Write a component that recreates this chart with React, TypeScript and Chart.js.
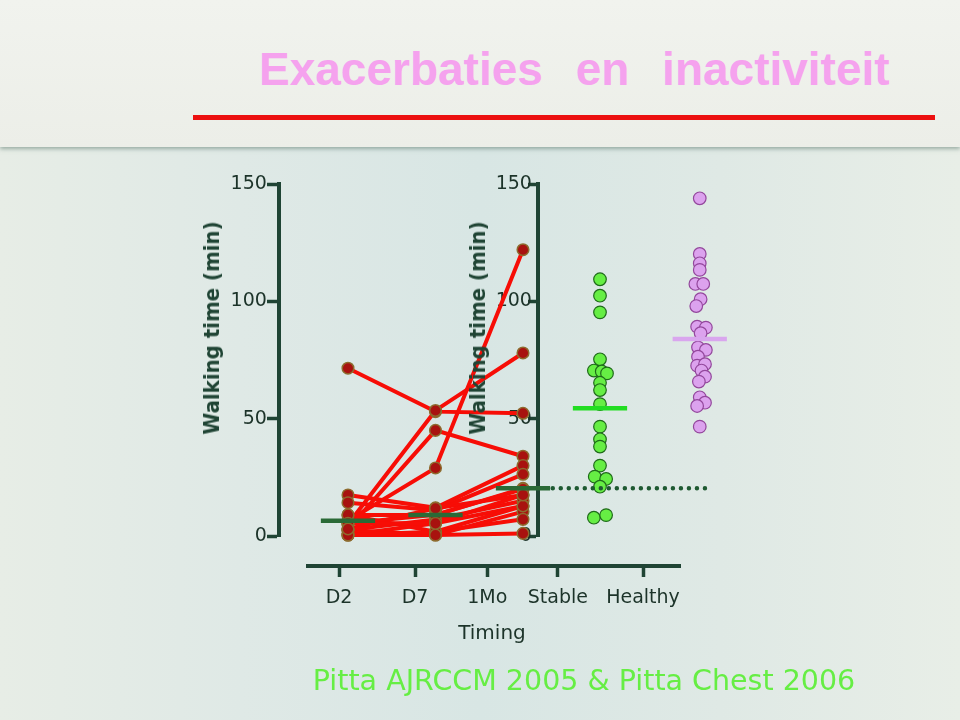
import React, { useEffect, useRef } from 'react';
import { Chart, registerables } from 'chart.js';

Chart.register(...registerables);

// ---- data -------------------------------------------------------------
const groupLabels = ['D2', 'D7', '1Mo', 'Stable', 'Healthy'];
// group positions on the data x-axis (units = one timing step)
const groupX = [0, 1, 2, 2.88, 4.02];
// positions of the printed timing ticks on the label axis
const labelTickX = [0, 1, 1.95, 2.88, 4];

// paired walking time (min) per patient at D2, D7, 1Mo
const patients: number[][] = [
  [71.5, 53, 52.3],
  [5, 53.5, 78],
  [3, 45, 34],
  [6.5, 29, 122],
  [17.5, 12, 30],
  [14.2, 11, 26.3],
  [9, 9, 20.3],
  [5.4, 5.4, 17.5],
  [2.6, 7, 15],
  [0.4, 1.8, 12.8],
  [0.4, 0.4, 10.4],
  [9, 1.8, 7.1],
  [2.6, 0.4, 1.1],
  [5.4, 9, 20],
  [0.4, 5.4, 12.8],
  [3, 11.8, 17.5],
];

// stable COPD patients: walking time (min) and horizontal jitter (x units)
const stableValues = [109.4, 102.4, 95.3, 75.3, 70.5, 70.1, 69.3, 65.3, 62.2, 56.2, 46.6, 41.2, 38.1, 30, 25.3, 24.3, 21, 7.8, 8.9];
const stableJitter = [0, 0, 0, 0, -0.07, 0.02, 0.08, 0, 0, 0, 0, 0, 0, 0, -0.06, 0.07, 0, -0.07, 0.07];

// healthy subjects
const healthyValues = [143.9, 120.2, 116.2, 113.4, 107.4, 107.4, 100.9, 98, 89.2, 88.8, 86.4, 80.4, 79.3, 76.4, 72.6, 73.2, 70.5, 67.9, 65.8, 59.1, 56.8, 55.4, 46.6];
const healthyJitter = [0, 0, 0, 0, -0.05, 0.04, 0.01, -0.04, -0.03, 0.07, 0.01, -0.02, 0.07, -0.02, -0.03, 0.06, 0.02, 0.06, -0.01, 0, 0.06, -0.03, 0];

// medians: D2, D7, 1Mo, Stable, Healthy
const medians = [6.5, 9, 20.3, 54.4, 84];

// ---- styling ------------------------------------------------------------
const AXIS = '#1f4434';
const TICKTXT = '#1c3329';
const FONT = "'DejaVu Sans', sans-serif";
const X_LABEL_AXIS_END = 4.487; // where the drawn timing axis line stops (label-axis units)

export default function App() {
  const ref = useRef<HTMLCanvasElement>(null);

  useEffect(() => {
    if (!ref.current) return;
    const datasets: any[] = [];

    const medColors = ['#2a6a36', '#2a6a36', '#2a6a36', '#22dd22', '#d9a6ee'];
    medians.forEach((m, i) => {
      datasets.push({
        data: [
          { x: groupX[i] - 0.31, y: m },
          { x: groupX[i] + 0.31, y: m },
        ],
        showLine: true,
        borderColor: medColors[i],
        borderWidth: 4.5,
        pointRadius: 0,
        clip: false,
        order: 0,
      });
    });
    datasets.push({
      data: [
        { x: groupX[2] + 0.34, y: medians[2] },
        { x: groupX[4] + 0.14, y: medians[2] },
      ],
      showLine: true,
      borderColor: '#1f5a32',
      borderWidth: 4.5,
      borderDash: [0.01, 8],
      borderCapStyle: 'round',
      pointRadius: 0,
      clip: false,
      order: 0,
    });

    const patientPts: any[] = [];
    patients.forEach((p) => p.forEach((v, j) => patientPts.push({ x: groupX[j], y: v })));
    datasets.push({
      data: patientPts,
      pointRadius: 5.8,
      pointBackgroundColor: '#a8120f',
      pointBorderColor: '#8d6b2e',
      pointBorderWidth: 1.5,
      clip: false,
      order: 1,
    });
    datasets.push({
      data: stableValues.map((v, i) => ({ x: groupX[3] + stableJitter[i], y: v })),
      pointRadius: 6.3,
      pointBackgroundColor: '#66ee44',
      pointBorderColor: '#1f6a1a',
      pointBorderWidth: 1.2,
      clip: false,
      order: 1,
    });
    datasets.push({
      data: healthyValues.map((v, i) => ({ x: groupX[4] + healthyJitter[i], y: v })),
      pointRadius: 6.3,
      pointBackgroundColor: '#dca2ee',
      pointBorderColor: '#93479c',
      pointBorderWidth: 1.2,
      clip: false,
      order: 1,
    });

    patients.forEach((p) => {
      datasets.push({
        data: p.map((v, j) => ({ x: groupX[j], y: v })),
        showLine: true,
        borderColor: '#f70d06',
        borderWidth: 4,
        pointRadius: 0,
        clip: false,
        order: 2,
      });
    });

    const tickFont = { family: FONT, size: 19 };

    // the timing axis line stops short of the plotting area on the right
    const shortenAxis = {
      id: 'shortenAxis',
      afterLayout(chart: any) {
        const s = chart.scales.xl;
        if (s) s.right = s.getPixelForValue(X_LABEL_AXIS_END);
      },
    };

    const chart = new Chart(ref.current, {
      type: 'scatter',
      data: { datasets },
      plugins: [shortenAxis],
      options: {
        responsive: false,
        animation: false,
        events: [],
        layout: { padding: { left: 308, right: 220, top: 184, bottom: 184 } },
        plugins: { legend: { display: false }, tooltip: { enabled: false } },
        scales: {
          x: { type: 'linear', display: false, min: -0.457, max: 4.48 },
          y: {
            type: 'linear',
            axis: 'y',
            min: 0,
            max: 150,
            position: { x: -0.789 },
            ticks: { stepSize: 50, font: tickFont, color: TICKTXT, callback: (v: any) => `${v}  ` },
            grid: { drawOnChartArea: false, drawTicks: true, tickLength: 10, tickWidth: 3.5, tickColor: AXIS, color: AXIS },
            border: { display: true, color: AXIS, width: 4 },
          },
          y2: {
            type: 'linear',
            axis: 'y',
            min: 0,
            max: 150,
            position: { x: 2.171 },
            ticks: { stepSize: 50, font: tickFont, color: TICKTXT, callback: (v: any) => `${v} ` },
            grid: { drawOnChartArea: false, drawTicks: true, tickLength: 8, tickWidth: 3.5, tickColor: AXIS, color: AXIS },
            border: { display: true, color: AXIS, width: 4 },
          },
          xl: {
            type: 'linear',
            axis: 'x',
            min: -0.408,
            max: 5.276,
            position: { y: -12.8 },
            afterBuildTicks: (s: any) => {
              s.ticks = labelTickX.map((v) => ({ value: v }));
            },
            ticks: {
              autoSkip: false,
              maxRotation: 0,
              font: tickFont,
              color: TICKTXT,
              padding: 12,
              callback: (_v: any, i: number) => groupLabels[i],
            },
            grid: { drawOnChartArea: false, drawTicks: true, tickLength: 9, tickWidth: 3.5, tickColor: AXIS, color: AXIS },
            border: { display: true, color: AXIS, width: 4 },
          },
        },
      } as any,
    });
    return () => chart.destroy();
  }, []);

  const rotTitle = (cx: number, cy: number): React.CSSProperties => ({
    position: 'absolute',
    left: cx,
    top: cy,
    transform: 'translate(-50%, -50%) rotate(-90deg) scaleX(0.9)',
    whiteSpace: 'nowrap',
    fontFamily: FONT,
    fontSize: 22,
    fontWeight: 'bold',
    color: '#1f4434',
    lineHeight: 1,
  });

  return (
    <div
      style={{
        position: 'fixed',
        left: 0,
        top: 0,
        width: 960,
        height: 720,
        overflow: 'hidden',
        background:
          'linear-gradient(to right, #e7ede6 0%, #dfe9e6 25%, #d8e6e4 50%, #dfe9e5 75%, #e8eee7 100%)',
      }}
    >
      <div
        style={{
          position: 'absolute',
          left: 0,
          top: 0,
          width: 960,
          height: 147,
          background: 'linear-gradient(to bottom, #f1f3ee, #eceee8)',
          boxShadow: '0 2px 4px rgba(90,120,110,0.55)',
        }}
      />
      <div
        style={{
          position: 'absolute',
          left: 259,
          top: 46,
          whiteSpace: 'nowrap',
          fontFamily: "'Liberation Sans', Arial, sans-serif",
          fontWeight: 'bold',
          fontSize: 46,
          color: '#f5a2ee',
          lineHeight: 1,
          wordSpacing: 20,
        }}
      >
        Exacerbaties en inactiviteit
      </div>
      <div style={{ position: 'absolute', left: 193, top: 115, width: 742, height: 5, background: '#ec1010' }} />
      <canvas ref={ref} width={960} height={720} style={{ position: 'absolute', left: 0, top: 0 }} />
      <div style={rotTitle(212, 328)}>Walking time (min)</div>
      <div style={rotTitle(478, 328)}>Walking time (min)</div>
      <div
        style={{
          position: 'absolute',
          left: 492,
          top: 632,
          transform: 'translate(-50%, -50%)',
          fontFamily: FONT,
          fontSize: 20,
          color: TICKTXT,
          whiteSpace: 'nowrap',
        }}
      >
        Timing
      </div>
      <div
        style={{
          position: 'absolute',
          left: 584,
          top: 680,
          transform: 'translate(-50%, -50%)',
          fontFamily: FONT,
          fontSize: 28.5,
          color: '#66ee44',
          whiteSpace: 'nowrap',
        }}
      >
        Pitta AJRCCM 2005 &amp; Pitta Chest 2006
      </div>
    </div>
  );
}
